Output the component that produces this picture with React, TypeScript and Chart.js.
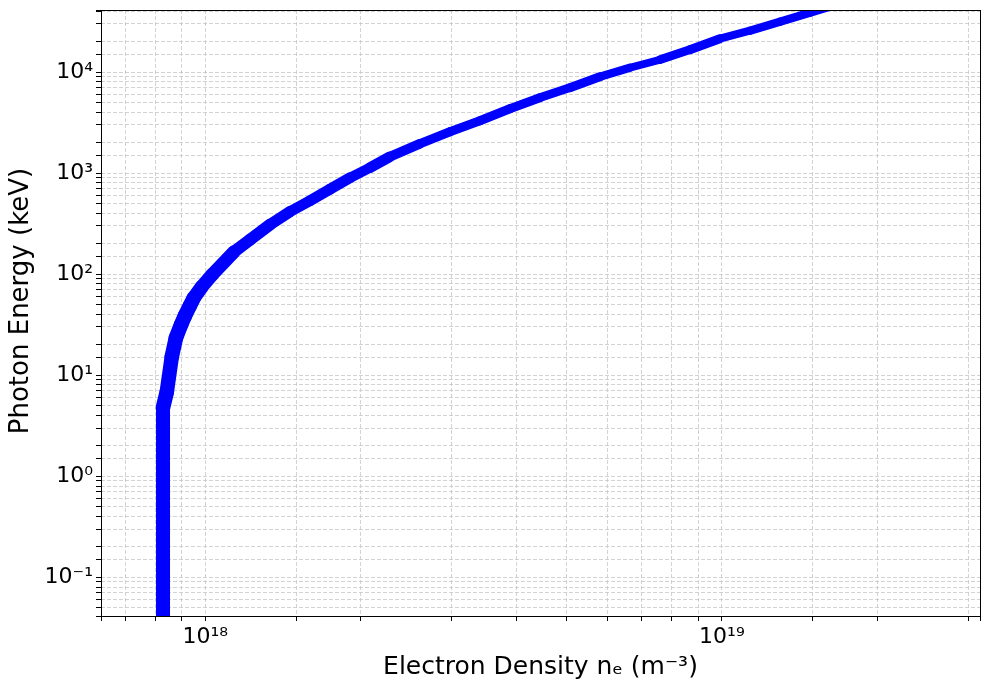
import React, { useEffect, useRef } from 'react';
import { Chart, registerables } from 'chart.js';

Chart.register(...registerables);

// Electron density n_e (m^-3)
const electronDensity = [
  8.28e17, 8.28e17, 8.42e17, 8.61e17, 8.77e17, 8.97e17, 9.13e17, 9.33e17, 9.5e17, 9.84e17,
  1.03e18, 1.136e18, 1.22e18, 1.333e18, 1.457e18, 1.594e18, 1.742e18, 1.905e18, 2.082e18, 2.276e18,
  2.602e18, 2.975e18, 3.4e18, 3.886e18, 4.442e18, 5.078e18, 5.804e18, 6.634e18, 7.59e18, 8.67e18,
  9.91e18, 1.133e19, 1.295e19, 1.48e19, 1.69e19,
];

// Photon energy (keV)
const photonEnergy = [
  0.02, 4.78, 6.83, 15.2, 23.4, 31.5, 38.7, 48.5, 58.3, 74.8,
  98.4, 166, 219, 308, 414, 532, 691, 898, 1129, 1450,
  1951, 2564, 3295, 4330, 5566, 6990, 8984, 11030, 13240, 16630,
  21370, 25640, 31480, 38660, 47460,
];

const xLimits = [6.28e17, 3.16e19];
const yLimits = [0.0414, 4.11e4];

const xTitle = 'Electron Density nₑ (m⁻³)';
const yTitle = 'Photon Energy (keV)';

const SUP: Record<string, string> = {
  '0': '⁰', '1': '¹', '2': '²', '3': '³', '4': '⁴', '5': '⁵', '6': '⁶', '7': '⁷', '8': '⁸', '9': '⁹', '-': '⁻',
};

function powerLabel(v: number): string {
  const l = Math.log10(v);
  const r = Math.round(l);
  if (Math.abs(l - r) > 1e-6) return '';
  return '10' + String(r).split('').map((c) => SUP[c] || c).join('');
}

const FONT = 'DejaVu Sans';
const GRID_COLOR = '#c8c8c8';

const framePlugin = {
  id: 'axesFrame',
  afterDatasetsDraw(chart: any) {
    const { ctx, chartArea } = chart;
    const { left, top, right, bottom } = chartArea;
    ctx.save();
    ctx.strokeStyle = '#000';
    ctx.lineWidth = 1;
    ctx.setLineDash([]);
    ctx.strokeRect(Math.round(left) + 0.5, Math.round(top) + 0.5, Math.round(right - left), Math.round(bottom - top));
    ctx.restore();
  },
};

const yTitlePlugin = {
  id: 'yTitleText',
  afterDraw(chart: any) {
    const { ctx, chartArea } = chart;
    const cy = (chartArea.top + chartArea.bottom) / 2 - 12;
    ctx.save();
    ctx.translate(21, cy);
    ctx.rotate(-Math.PI / 2);
    ctx.fillStyle = '#000';
    ctx.font = `26px "${FONT}"`;
    ctx.textAlign = 'center';
    ctx.textBaseline = 'middle';
    ctx.fillText(yTitle, 0, 0);
    ctx.restore();
  },
};

export default function App() {
  const canvasRef = useRef<HTMLCanvasElement | null>(null);

  useEffect(() => {
    const canvas = canvasRef.current;
    if (!canvas) return;
    const points = electronDensity.map((x, i) => ({ x, y: photonEnergy[i] }));

    const gridOpts: any = {
      color: GRID_COLOR,
      lineWidth: 0.8,
      drawTicks: true,
      tickLength: 5,
      tickColor: '#000',
      tickWidth: 1,
      tickBorderDash: [],
    };

    const chart = new Chart(canvas, {
      type: 'line',
      data: {
        datasets: [
          {
            data: points,
            borderColor: '#0000ff',
            backgroundColor: '#0000ff',
            borderWidth: 9,
            borderCapStyle: 'round',
            borderJoinStyle: 'round',
            pointRadius: 0,
            pointHoverRadius: 0,
            tension: 0,
            fill: false,
            clip: 0,
            segment: {
              borderWidth: (c: any) => {
                const dx = c.p1.x - c.p0.x;
                const dy = c.p1.y - c.p0.y;
                const L = Math.hypot(dx, dy) || 1;
                return (14 * Math.abs(dy)) / L + (4.5 * Math.abs(dx)) / L;
              },
            },
          } as any,
        ],
      },
      options: {
        responsive: false,
        animation: false,
        events: [],
        devicePixelRatio: 1,
        layout: { padding: { top: 10, right: 10, left: 0, bottom: 0 } },
        plugins: {
          legend: { display: false },
          tooltip: { enabled: false },
        },
        scales: {
          x: {
            type: 'logarithmic',
            min: xLimits[0],
            max: xLimits[1],
            afterFit: (scale: any) => {
              scale.height = 74;
              scale.paddingLeft = 0;
              scale.paddingRight = 0;
            },
            border: { display: false, dash: [4, 2] },
            grid: gridOpts,
            ticks: {
              autoSkip: false,
              maxRotation: 0,
              minRotation: 0,
              padding: 3,
              color: '#000',
              font: { family: FONT, size: 22 },
              callback: (v: any) => powerLabel(Number(v)),
            },
            title: {
              display: true,
              text: xTitle,
              color: '#000',
              font: { family: FONT, size: 25 },
              padding: { top: 0, bottom: 8 },
            },
          },
          y: {
            type: 'logarithmic',
            min: yLimits[0],
            max: yLimits[1],
            afterFit: (scale: any) => {
              scale.width = 101;
              scale.paddingTop = 0;
              scale.paddingBottom = 0;
            },
            border: { display: false, dash: [4, 2] },
            grid: gridOpts,
            ticks: {
              autoSkip: false,
              padding: 3,
              color: '#000',
              font: { family: FONT, size: 22 },
              callback: (v: any) => powerLabel(Number(v)),
            },
            title: { display: false, text: yTitle },
          },
        },
      } as any,
      plugins: [framePlugin, yTitlePlugin],
    });

    return () => {
      chart.destroy();
    };
  }, []);

  return (
    <div style={{ position: 'fixed', left: 0, top: 0, width: 990, height: 690, background: '#fff' }}>
      <canvas ref={canvasRef} width={990} height={690} style={{ display: 'block', width: 990, height: 690 }} />
    </div>
  );
}
